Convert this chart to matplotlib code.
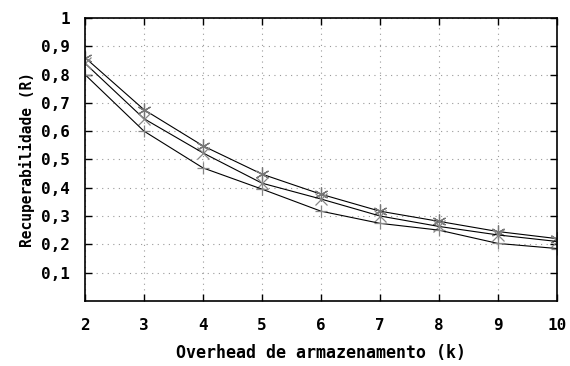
import matplotlib
matplotlib.use("Agg")
import matplotlib.pyplot as plt

k = [2, 3, 4, 5, 6, 7, 8, 9, 10]
serie_a = [0.86, 0.676, 0.548, 0.448, 0.377, 0.317, 0.281, 0.245, 0.22]
serie_b = [0.84, 0.644, 0.523, 0.416, 0.36, 0.30, 0.263, 0.233, 0.21]
serie_c = [0.80, 0.60, 0.47, 0.395, 0.317, 0.274, 0.25, 0.203, 0.185]
yticks = [0.1, 0.2, 0.3, 0.4, 0.5, 0.6, 0.7, 0.8, 0.9, 1.0]
ylabels = ["0,1", "0,2", "0,3", "0,4", "0,5", "0,6", "0,7", "0,8", "0,9", "1"]

plt.rcParams["font.family"] = "DejaVu Sans Mono"
plt.rcParams["font.weight"] = "bold"

fig = plt.figure(figsize=(5.7, 3.66), dpi=100)
ax = fig.add_axes([0.149, 0.178, 0.828, 0.773])

ax.plot(k, serie_a, color="black", lw=0.8, marker=(6, 2, 0), ms=10,
        mec="#777777", mew=0.9)
ax.plot(k, serie_b, color="black", lw=0.8, marker="x", ms=8,
        mec="#888888", mew=0.9)
ax.plot(k, serie_c, color="black", lw=0.8, marker="+", ms=9,
        mec="#888888", mew=0.9)

ax.set_xlim(2, 10)
ax.set_ylim(0, 1)
ax.set_xticks(k)
ax.set_yticks(yticks)
ax.set_yticklabels(ylabels)
ax.tick_params(direction="in", top=True, right=True, length=5, width=1,
               labelsize=11.5)
ax.tick_params(axis="x", pad=12)
ax.tick_params(axis="y", pad=11)
ax.grid(True, linestyle=(0, (1, 4)), color="#999999", lw=0.8)
for s in ax.spines.values():
    s.set_linewidth(1.2)

ax.set_xlabel("Overhead de armazenamento (k)", fontsize=12,
              fontweight="bold", labelpad=8)
ax.set_ylabel("Recuperabilidade (R)", fontsize=10.5, fontweight="bold",
              labelpad=4)

fig.savefig("out.png", dpi=100)
